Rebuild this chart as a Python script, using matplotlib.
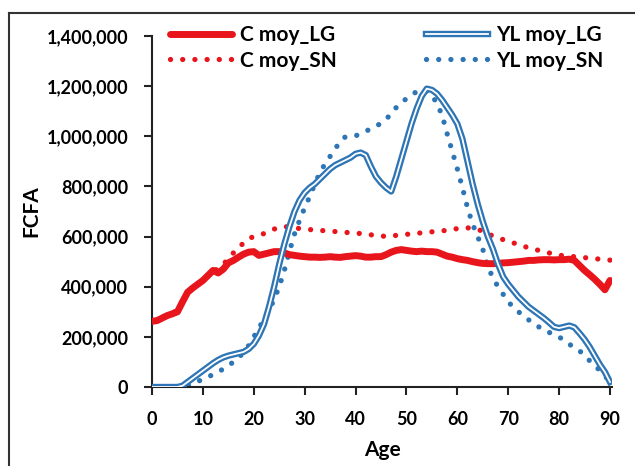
#Mean consumption (C) and labour income (YL) by age, LG vs SN
import numpy as np
import matplotlib.pyplot as plt
import matplotlib.patheffects as pe
from matplotlib.lines import Line2D

plt.rcParams['font.family'] = ['Lato', 'DejaVu Sans']

ages = list(range(0, 91))

#values in thousands of FCFA, one per age 0..90
c_moy_lg = [262, 265, 275, 285, 292, 300, 340, 378, 395, 410,
            425, 445, 465, 455, 470, 495, 505, 518, 530, 538,
            540, 525, 530, 535, 540, 540, 535, 528, 525, 522,
            520, 518, 518, 517, 518, 520, 518, 517, 520, 522,
            524, 522, 518, 518, 520, 520, 528, 538, 545, 548,
            545, 542, 540, 542, 540, 540, 538, 530, 522, 518,
            512, 508, 505, 500, 496, 493, 492, 492, 493, 495,
            496, 498, 500, 502, 505, 505, 507, 508, 508, 507,
            508, 508, 510, 505, 485, 465, 448, 430, 410, 388,
            425]
c_moy_sn = [262, 268, 278, 285, 295, 305, 345, 380, 398, 412,
            428, 448, 465, 470, 490, 510, 535, 555, 575, 592,
            600, 605, 612, 622, 630, 636, 640, 638, 635, 632,
            630, 628, 626, 625, 623, 622, 620, 618, 617, 615,
            614, 612, 610, 607, 605, 603, 600, 602, 605, 607,
            609, 611, 613, 615, 617, 619, 621, 623, 625, 628,
            632, 636, 635, 632, 628, 622, 612, 602, 594, 588,
            582, 575, 568, 562, 555, 550, 545, 540, 535, 530,
            526, 523, 521, 520, 518, 516, 514, 512, 510, 508,
            506]
yl_moy_lg = [0, 0, 0, 0, 0, 0, 5, 20, 35, 50,
             65, 80, 95, 108, 118, 125, 130, 135, 140, 152,
             172, 205, 250, 320, 400, 490, 570, 640, 700, 745,
             775, 795, 810, 830, 850, 870, 885, 895, 905, 915,
             930, 935, 925, 880, 840, 815, 795, 780, 840, 910,
             980, 1050, 1110, 1160, 1190, 1185, 1170, 1145, 1115, 1085,
             1050, 990, 900, 810, 730, 660, 600, 550, 490, 440,
             410, 385, 360, 340, 320, 305, 290, 275, 258, 240,
             235, 240, 245, 238, 215, 190, 160, 125, 90, 60,
             20]
yl_moy_sn = [0, 0, 0, 0, 0, 0, 0, 5, 12, 22,
             32, 40, 50, 60, 72, 85, 100, 115, 140, 165,
             200, 235, 270, 305, 350, 400, 465, 540, 610, 665,
             715, 760, 810, 855, 890, 920, 950, 980, 998, 1000,
             1002, 1010, 1020, 1030, 1040, 1052, 1068, 1090, 1115, 1135,
             1150, 1165, 1178, 1185, 1180, 1165, 1130, 1085, 1010, 940,
             870, 795, 715, 650, 600, 550, 480, 435, 400, 370,
             340, 318, 300, 285, 268, 255, 240, 228, 218, 210,
             200, 185, 170, 160, 145, 125, 105, 88, 65, 45,
             20]

red = '#E8161C'
blue = '#2E75B6'
dots = (0, (0.01, 2.3))

fig = plt.figure(figsize=(6.35, 4.66), dpi=100)
ax = fig.add_axes([0.2394, 0.1695, 0.7244, 0.7532])

k = 1000
ax.plot(ages, np.array(c_moy_lg) * k, color=red, lw=5, label='C moy_LG',
        solid_capstyle='round', zorder=3)
ax.plot(ages, np.array(c_moy_sn) * k, color=red, lw=3.8, ls=dots,
        dash_capstyle='round', label='C moy_SN', zorder=2)
ax.plot(ages, np.array(yl_moy_lg) * k, color='white', lw=1.3, label='YL moy_LG',
        path_effects=[pe.Stroke(linewidth=4.6, foreground=blue), pe.Normal()],
        zorder=4)
ax.plot(ages, np.array(yl_moy_sn) * k, color=blue, lw=3.8, ls=dots,
        dash_capstyle='round', label='YL moy_SN', zorder=2)

ax.set_xlim(0, 90.4)
ax.set_ylim(0, 1400000)
ax.set_xticks(range(0, 91, 10))
ax.set_yticks(range(0, 1400001, 200000))
ax.yaxis.set_major_formatter(plt.FuncFormatter(lambda v, p: f'{int(v):,}'))

for s in ['top', 'right']:
    ax.spines[s].set_visible(False)
for s in ['left', 'bottom']:
    ax.spines[s].set_linewidth(1.5)
    ax.spines[s].set_color('#222222')
ax.tick_params(direction='out', length=6, width=1.5, color='#222222',
               labelsize=13, pad=11)
for lab in ax.get_xticklabels() + ax.get_yticklabels():
    lab.set_fontweight('bold')

ax.set_xlabel('Age', fontsize=15, fontweight='bold', labelpad=9)
ax.set_ylabel('FCFA', fontsize=15, fontweight='bold', labelpad=4)

leg = ax.legend(ncol=2, loc='upper left', bbox_to_anchor=(-0.002, 1.085),
                frameon=False, handlelength=3.0, columnspacing=4.3,
                handletextpad=0.35, labelspacing=0.28,
                prop={'size': 15, 'weight': 'bold'})

#outer border (top and left side only visible)
fig.add_artist(Line2D([9 / 635, 9 / 635], [0, 1 - 13 / 466],
                      transform=fig.transFigure, color='#333333', lw=1.5))
fig.add_artist(Line2D([9 / 635, 1], [1 - 13 / 466, 1 - 13 / 466],
                      transform=fig.transFigure, color='#333333', lw=1.5))

plt.savefig('out.png', dpi=100)
